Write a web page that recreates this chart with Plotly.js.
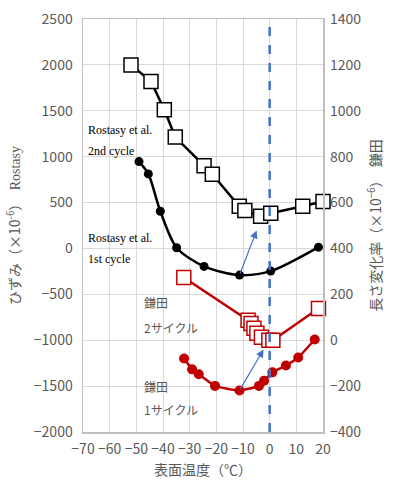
<!DOCTYPE html>
<html>
<head>
<meta charset="utf-8">
<script src="https://cdn.plot.ly/plotly-3.0.1.min.js"></script>
<style>html,body{margin:0;padding:0;background:#fff}#chart{width:396px;height:484px}</style>
</head>
<body>
<div id="chart"></div>
<script>
// Rostasy et al. 2nd cycle (left axis)
const rost2X = [-52, -44.5, -39.5, -35.4, -24.6, -21.5, -11.4, -9.3, -3.4, 0.4, 12.4, 20];
const rost2Y = [2000, 1818, 1511, 1214, 902, 808, 460, 413, 351, 384, 460, 511];
// Rostasy et al. 1st cycle (left axis)
const rost1X = [-49, -45.5, -41, -34.9, -24.6, -11.3, 0.4, 18.3];
const rost1Y = [946, 812, 405, 8, -196, -290, -247, 14];
// 鎌田 2サイクル (right axis)
const kama2X = [-32.2, -8.1, -7.0, -5.9, -4.8, -3.1, -0.3, 1.2, 18.3];
const kama2Y = [273, 87, 73, 52, 30, 13, 0, 0, 138];
// 鎌田 1サイクル (right axis)
const kama1X = [-32.1, -29.1, -26.6, -20.5, -11.3, -4, -2.1, 1, 6.1, 10.7, 16.9];
const kama1Y = [-80, -127, -148, -199, -219, -199, -177, -140, -110, -75, 3];

const xTicks = [-70, -60, -50, -40, -30, -20, -10, 0, 10, 20];

const gray = '#595959';
const red = '#C00000';
const blue = '#4472C4';
const jp = '"Noto Sans CJK JP", "Noto Sans", sans-serif';
const serif = '"Liberation Serif", "DejaVu Serif", serif';

const traces = [
  {x: rost1X, y: rost1Y, yaxis: 'y', mode: 'lines+markers', cliponaxis: false,
   line: {color: '#000', width: 2.5, shape: 'spline', smoothing: 0.8},
   marker: {symbol: 'circle', size: 9, color: '#000'}, hoverinfo: 'skip'},
  {x: rost2X, y: rost2Y, yaxis: 'y', mode: 'lines+markers', cliponaxis: false,
   line: {color: '#000', width: 2.5},
   marker: {symbol: 'square', size: 14, color: '#fff', line: {color: '#000', width: 1.5}}, hoverinfo: 'skip'},
  {x: kama1X, y: kama1Y, yaxis: 'y2', mode: 'lines+markers', cliponaxis: false,
   line: {color: red, width: 2.5, shape: 'spline', smoothing: 0.5},
   marker: {symbol: 'circle', size: 10, color: red}, hoverinfo: 'skip'},
  {x: kama2X, y: kama2Y, yaxis: 'y2', mode: 'lines+markers', cliponaxis: false,
   line: {color: red, width: 2.5},
   marker: {symbol: 'square', size: 14, color: '#fff', line: {color: red, width: 1.5}}, hoverinfo: 'skip'}
];

const annText = (x, y, text, font) => ({x: x, y: y, xref: 'x', yref: 'y', text: text, showarrow: false,
  xanchor: 'left', yanchor: 'middle', font: font});

const layout = {
  width: 396, height: 484,
  margin: {l: 83, r: 73, t: 19, b: 52},
  paper_bgcolor: '#fff', plot_bgcolor: '#fff',
  showlegend: false,
  font: {family: jp, color: gray, size: 14},
  xaxis: {range: [-70, 20], tickvals: xTicks, ticktext: xTicks.map(v => v < 0 ? '\u2212' + Math.abs(v) : String(v)),
    showgrid: true, gridcolor: '#d9d9d9', gridwidth: 1, zeroline: false,
    showline: true, linecolor: '#bfbfbf', linewidth: 1.5, mirror: true, ticks: '',
    ticklabelstandoff: 4,
    tickfont: {size: 14, color: gray},
    title: {text: '表面温度（℃）', font: {size: 14, color: gray}, standoff: 8}},
  yaxis: {range: [-2000, 2500], dtick: 500, showgrid: true, gridcolor: '#d9d9d9', gridwidth: 1, zeroline: false,
    showline: true, linecolor: '#bfbfbf', linewidth: 1.5, mirror: true, ticks: '',
    ticklabelstandoff: 6,
    tickfont: {size: 14, color: gray},
    title: {text: 'ひずみ（×10<sup>-6</sup>）  <span style="font-family:Liberation Serif">Rostasy</span>', font: {size: 14, color: gray}, standoff: 10}},
  yaxis2: {range: [-400, 1400], dtick: 200, overlaying: 'y', side: 'right', showgrid: false, zeroline: false,
    showline: false, ticks: '', tickfont: {size: 14, color: gray},
    ticklabelstandoff: 6,
    title: {text: '長さ変化率（×10<sup>−6</sup>）  鎌田', font: {size: 14, color: gray}, standoff: 10}},
  shapes: [
    {type: 'line', xref: 'x', yref: 'paper', x0: 0, x1: 0, y0: 0, y1: 1, line: {color: blue, width: 2.5, dash: 'dash'}}
  ],
  annotations: [
    annText(-69, 1293, 'Rostasy et al.', {family: serif, size: 12, color: '#000'}),
    annText(-69, 1065, '2nd cycle', {family: serif, size: 12, color: '#000'}),
    annText(-69, 109, 'Rostasy et al.', {family: serif, size: 12, color: '#000'}),
    annText(-69, -120, '1st cycle', {family: serif, size: 12, color: '#000'}),
    annText(-48, -587, '鎌田', {family: jp, size: 12, color: gray}),
    annText(-48, -859, '2サイクル', {family: jp, size: 12, color: gray}),
    annText(-48, -1500, '鎌田', {family: jp, size: 12, color: gray}),
    annText(-48, -1750, '1サイクル', {family: jp, size: 12, color: gray}),
    {x: -4.9, y: 196, xref: 'x', yref: 'y', ax: -11.3, ay: -290, axref: 'x', ayref: 'y', text: '',
     showarrow: true, arrowhead: 2, arrowsize: 1.3, arrowwidth: 1.2, arrowcolor: blue},
    {x: -2.3, y: -1101, xref: 'x', yref: 'y', ax: -11.3, ay: -1547, axref: 'x', ayref: 'y', text: '',
     showarrow: true, arrowhead: 2, arrowsize: 1.3, arrowwidth: 1.2, arrowcolor: blue}
  ]
};

Plotly.newPlot('chart', traces, layout, {staticPlot: true, displayModeBar: false});
</script>
</body>
</html>
